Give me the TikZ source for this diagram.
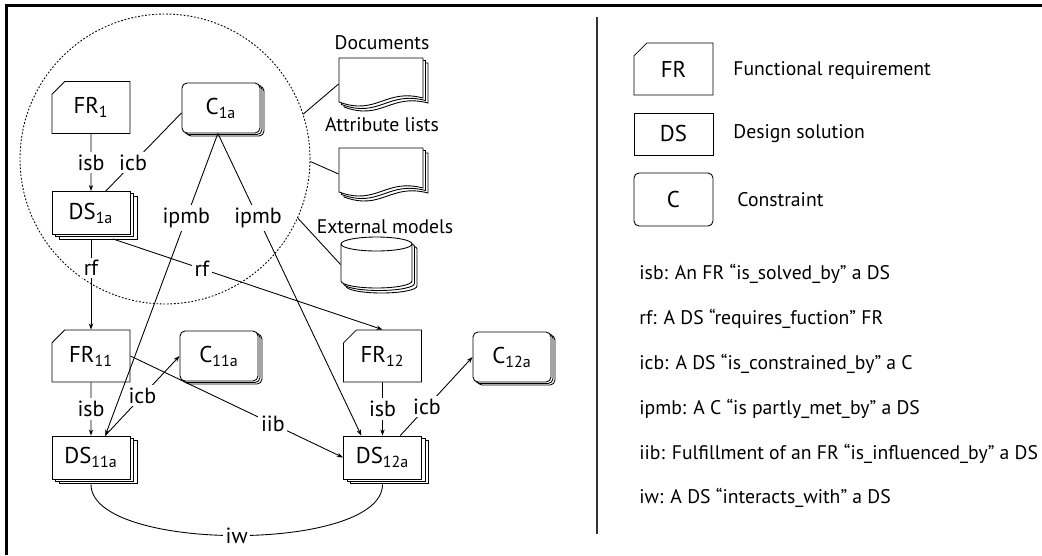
\documentclass[tikz,border=0pt]{standalone}
\usepackage{fontspec}
\setmainfont{PT Sans}
\usetikzlibrary{arrows.meta, shapes.misc, shadows}

\begin{document}
\begin{tikzpicture}[x=0.02cm, y=-0.02cm,
    font=\fontsize{11.2}{13}\selectfont, line width=0.5pt,
    box/.style={draw, fill=white, inner sep=0pt, minimum width=1.56cm, font=\fontsize{13}{15}\selectfont},
    frbox/.style={box, chamfered rectangle, chamfered rectangle corners=north west,
      chamfered rectangle xsep=0.14cm, minimum height=1.04cm},
    dsbox/.style={box, minimum height=0.86cm},
    cbox/.style={box, rounded corners=0.1cm, minimum height=1cm},
    stackds/.style={double copy shadow={shadow xshift=0.07cm, shadow yshift=-0.045cm, fill=white, draw}},
    stackc/.style={double copy shadow={shadow xshift=0.04cm, shadow yshift=-0.03cm, fill=white, draw}},
    arr/.style={-{Stealth[length=3.5pt, width=2.5pt]}},
    lbl/.style={fill=white, inner sep=1.5pt, font=\fontsize{12.5}{14}\selectfont},
    txt/.style={anchor=west, inner sep=0pt}]
  \useasboundingbox (0,0) rectangle (1042,555);
  \draw[line width=1.4pt] (6.5,555) -- (6.5,5.5) -- (1042,5.5);

  % group of the top level
  \node[draw, circle, dash pattern=on 1pt off 1pt, minimum size=5.8cm, inner sep=0pt] (grp) at (165,159) {};

  \node[frbox] (fr1) at (91,107.5) {FR\textsubscript{1}};
  \node[cbox, stackc] (c1a) at (221,108) {C\textsubscript{1a}};
  \node[dsbox, stackds] (ds1a) at (91,213) {DS\textsubscript{1a}};

  \node[frbox] (fr11) at (91,356) {FR\textsubscript{11}};
  \node[cbox, stackc] (c11a) at (219,356) {C\textsubscript{11a}};
  \node[dsbox, stackds] (ds11a) at (91,457.5) {DS\textsubscript{11a}};

  \node[frbox] (fr12) at (382.5,356) {FR\textsubscript{12}};
  \node[cbox, stackc] (c12a) at (512,357) {C\textsubscript{12a}};
  \node[dsbox, stackds] (ds12a) at (382.5,457.5) {DS\textsubscript{12a}};

  % sources
  \foreach \s in {5,2.5,0} {
    \draw[fill=white, shift={(339+\s,58+\s)}] (0,0) -- (84,0) -- (84,40)
      .. controls (46,30) and (38,58) .. (0,44) -- cycle;
    \draw[fill=white, shift={(339+\s,148+\s)}] (0,0) -- (84,0) -- (84,40)
      .. controls (46,30) and (38,58) .. (0,44) -- cycle;
    \draw[fill=white, shift={(341+\s,237+\s)}] (0,7) -- (0,44)
      arc[start angle=180, end angle=360, x radius=0.71cm, y radius=0.14cm] -- (71,7)
      arc[start angle=0, end angle=180, x radius=0.71cm, y radius=0.14cm] -- cycle;
  }
  \draw (341,244) arc[start angle=180, end angle=360, x radius=0.71cm, y radius=0.14cm];
  \node[minimum width=1.68cm, minimum height=1.04cm, inner sep=0pt] (docs) at (381,84) {};
  \node[minimum width=1.68cm, minimum height=1.04cm, inner sep=0pt] (attr) at (381,174) {};
  \node[minimum width=1.42cm, minimum height=1.1cm, inner sep=0pt] (extm) at (376.5,264.5) {};
  \node (docslbl) at (382,43) {Documents};
  \node (attrlbl) at (382,125) {Attribute lists};
  \node (extmlbl) at (385,227) {External models};

  \draw (grp.18) -- (docs.west);
  \draw (grp.-1) -- (attr.west);
  \draw (grp.-24) -- (extm.west);

  % relations
  \draw[arr] (fr1) -- node[lbl] {isb} (ds1a);
  \draw (ds1a.56) -- node[lbl, pos=0.36] {icb} (c1a.187);
  \draw[arr] (c1a.263) -- node[lbl, pos=0.28] {ipmb} (ds11a.57);
  \draw[arr] (c1a.263) -- node[lbl, pos=0.28] {ipmb} (ds12a.134);
  \draw[arr] ([yshift=-0.08cm]ds1a.south) -- node[lbl, pos=0.32] {rf} (fr11.north);
  \draw[arr] ([yshift=-0.08cm]ds1a.-45) -- node[lbl, pos=0.33] {rf} (fr12.north);

  \draw[arr] (fr11) -- node[lbl] {isb} (ds11a);
  \draw[arr] (ds11a.57) -- node[lbl] {icb} (c11a.west);
  \draw[arr] (fr11.east) -- node[lbl, pos=0.67] {iib} (ds12a.west);
  \draw[arr] (fr12) -- node[lbl] {isb} (ds12a);
  \draw[arr] (ds12a.51) -- node[lbl, pos=0.37] {icb} (c12a.west);
  \draw ([yshift=-0.1cm]ds11a.south) to[out=-90, in=-90, looseness=0.6]
    node[lbl] {iw} ([yshift=-0.1cm]ds12a.south);

  % legend
  \draw[line width=0.8pt, black!80] (597,17) -- (597,534);
  \node[frbox, minimum width=1.58cm] (legfr) at (673.5,69) {FR};
  \node[dsbox, minimum width=1.58cm, minimum height=0.84cm] (legds) at (673.5,134) {DS};
  \node[cbox, minimum width=1.58cm, minimum height=1.06cm] (legc) at (673.5,199.5) {C};
  \node[txt] (legfrtxt) at (733,70) {Functional requirement};
  \node[txt] (legdstxt) at (733,134) {Design solution};
  \node[txt] (legctxt) at (737,200) {Constraint};

  \node[txt] (isbtxt) at (639,274) {isb: An FR “is\_solved\_by” a DS};
  \node[txt] (rftxt) at (639,319) {rf: A DS “requires\_fuction” FR};
  \node[txt] (icbtxt) at (639,364) {icb: A DS “is\_constrained\_by” a C};
  \node[txt] (ipmbtxt) at (639,409) {ipmb: A C “is partly\_met\_by” a DS};
  \node[txt] (iibtxt) at (639,454) {iib: Fulfillment of an FR “is\_influenced\_by” a DS};
  \node[txt] (iwtxt) at (639,498) {iw: A DS “interacts\_with” a DS};
\end{tikzpicture}
\end{document}
